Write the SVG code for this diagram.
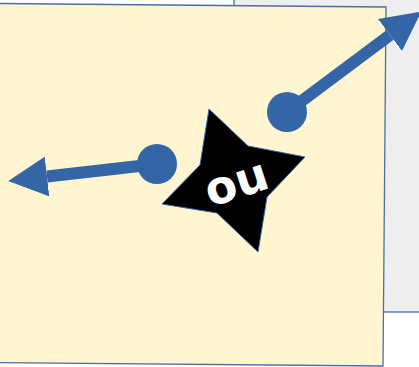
<svg xmlns="http://www.w3.org/2000/svg" width="419" height="367" viewBox="0 0 419 367">
<defs>
<style>
.panel{stroke:#4a6fa5;stroke-width:1.3}
.conn{stroke:#3465a6;stroke-width:12;fill:none}
.dot{fill:#3465a6}
.lbl{font-family:"DejaVu Sans",Verdana,sans-serif;font-weight:bold;font-size:46px;fill:#ffffff}
</style>
<marker id="ah" markerUnits="userSpaceOnUse" markerWidth="42" markerHeight="42" viewBox="0 -21 42 42" refX="0" refY="0" orient="auto">
<path d="M0,-20 L39,0 L0,20 Z" fill="#3465a6"/>
</marker>
</defs>
<g id="background">
<rect x="234" y="-10" width="200" height="322" fill="#eeeeee" class="panel"/>
</g>
<g id="panel">
<polygon points="-2,3.5 386,7 383,366 -5,362.5" fill="#fff5d1" class="panel"/>
</g>
<g id="connectors">
<line x1="287" y1="112" x2="390" y2="35" class="conn" marker-end="url(#ah)"/>
<circle cx="287" cy="112" r="20" class="dot"/>
<line x1="157" y1="164" x2="47" y2="176.5" class="conn" marker-end="url(#ah)"/>
<circle cx="157" cy="164" r="20" class="dot"/>
</g>
<g id="star">
<polygon points="209,109 248,146 305,157 267,197 258,252 217,213 162,204 200,165" fill="#000000" stroke="#3465a6" stroke-width="1"/>
<text class="lbl" transform="translate(237,185) rotate(-18)" x="0" y="13" text-anchor="middle">ou</text>
</g>
</svg>
